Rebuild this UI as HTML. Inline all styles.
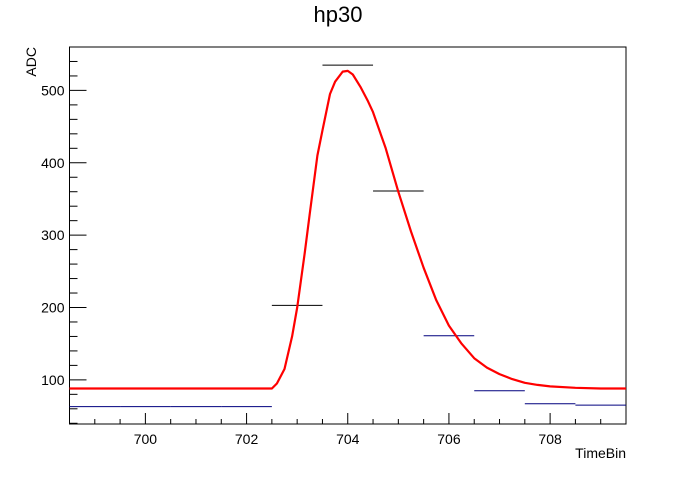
<!DOCTYPE html>
<html><head><meta charset="utf-8"><style>
body{margin:0;background:#fff}
svg text{font-family:"Liberation Sans",Arial,sans-serif}
</style></head><body>
<svg id="c" width="696" height="472" xmlns="http://www.w3.org/2000/svg">
<rect width="696" height="472" fill="#fff"/>
<text x="338" y="22" font-size="22" text-anchor="middle">hp30</text>
<g id="ax"></g>
<g id="marks"></g>
</svg>
<script>
const binCenters=[699,700,701,702,703,704,705,706,707,708,709];
const binValues=[63,63,63,63,203,535,361,161,85,67,65];
const binColors=["#00007f","#00007f","#00007f","#00007f","#000","#000","#000","#00007f","#00007f","#00007f","#00007f"];
const fitX=[698.5,702.5,702.6,702.75,702.9,703,703.15,703.25,703.4,703.5,703.65,703.75,703.9,704,704.1,704.25,704.4,704.5,704.75,705,705.25,705.5,705.75,706,706.25,706.5,706.75,707,707.25,707.5,707.75,708,708.5,709,709.5];
const fitY=[88,88,95,115,160,200,275,330,410,445,495,512,526,527,522,505,485,470,420,360,305,255,210,175,150,130,117,108,101,96,93,91,89,88,88];
const xTicks=[700,702,704,706,708];
const yTicks=[100,200,300,400,500];
const L=69.5,R=626,T=47,B=424,x0=698.5,x1=709.5,y0=39,y1=560;
const X=v=>L+(v-x0)/(x1-x0)*(R-L), Y=v=>B-(v-y0)/(y1-y0)*(B-T);
const ns="http://www.w3.org/2000/svg";
function mk(p,t,a){const e=document.createElementNS(ns,t);for(const k in a)e.setAttribute(k,a[k]);p.appendChild(e);return e;}
const ax=document.getElementById('ax'),mg=document.getElementById('marks');
const fr=mk(ax,'rect',{x:L,y:T,width:R-L,height:B-T,fill:'none',stroke:'#000','stroke-width':1});


for(let v=699;v<=709.5;v+=0.5){const maj=Number.isInteger(v)&&v%2===0;const l=mk(ax,'line',{x1:X(v),x2:X(v),y1:B,y2:B-(maj?11:5),stroke:'#000'});

}
xTicks.forEach(v=>{const t=mk(ax,'text',{x:X(v),y:B+20,'font-size':14,'text-anchor':'middle'});t.textContent=v;

});
for(let v=40;v<=560;v+=20){const maj=v%100===0;const l=mk(ax,'line',{x1:L,x2:L+(maj?17:8),y1:Y(v),y2:Y(v),stroke:'#000'});

}
yTicks.forEach(v=>{const t=mk(ax,'text',{x:L-5,y:Y(v)+5,'font-size':14,'text-anchor':'end'});t.textContent=v;

});
const xt=mk(ax,'text',{x:R,y:458,'font-size':14,'text-anchor':'end'});xt.textContent='TimeBin';


const yt=mk(ax,'text',{x:0,y:0,'font-size':14,'text-anchor':'end',transform:'translate(36,47) rotate(-90)'});yt.textContent='ADC';


binCenters.forEach((c,i)=>{const l=mk(mg,'line',{x1:X(c-0.5),x2:X(c+0.5),y1:Y(binValues[i]),y2:Y(binValues[i]),stroke:binColors[i],'stroke-width':1});

});
const pts=fitX.map((x,i)=>X(x).toFixed(1)+','+Y(fitY[i]).toFixed(1)).join(' ');
const pl=mk(mg,'polyline',{points:pts,fill:'none',stroke:'#f00','stroke-width':2.2,'stroke-linejoin':'round'});


</script>
</body></html>
